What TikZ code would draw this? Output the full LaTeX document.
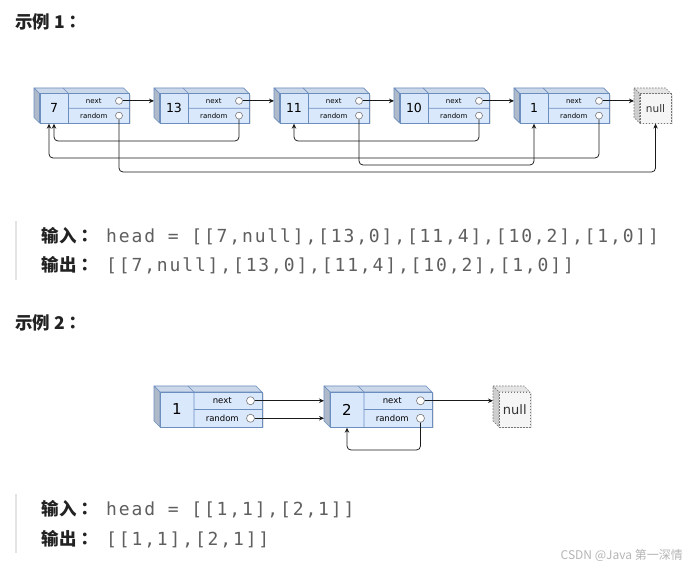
\documentclass[tikz,border=0pt]{standalone}
\usepackage{fontspec}
\setmainfont{DejaVu Sans}
\newfontfamily\cjk{Noto Sans CJK SC}
\newfontfamily\cjktc{Noto Sans CJK TC}
\newfontfamily\monof{DejaVu Sans Mono}[LetterSpace=10.3]
\usetikzlibrary{arrows.meta}
\definecolor{nfill}{HTML}{DAE8FC}
\definecolor{nline}{HTML}{6C8EBF}
\definecolor{zfill}{HTML}{F5F5F5}
\definecolor{zline}{HTML}{777777}
\definecolor{codec}{HTML}{5F5F5F}
\definecolor{headc}{HTML}{222222}
\definecolor{barc}{HTML}{E3E3E3}
\definecolor{markc}{HTML}{B5B5B5}
\definecolor{arrc}{HTML}{1A1A1A}
\definecolor{circc}{HTML}{777777}
\newcommand\cc{{\cjktc ：}}
\tikzset{
  frontface/.style={draw=nline, fill=nfill, line width=0.7pt},
  topface/.style={draw=nline, fill=nfill!93!black, line width=0.7pt, line join=round},
  sideface/.style={draw=nline, fill=nfill!80!black, line width=0.7pt, line join=round},
  divline/.style={draw=nline, line width=0.7pt},
  shadowfill/.style={fill=black, opacity=0.10},
  zfront/.style={draw=zline, fill=zfill, dash pattern=on 1.5pt off 1.5pt, line width=0.6pt},
  ztop/.style={draw=zline, fill=zfill!93!black, dash pattern=on 1.5pt off 1.5pt, line width=0.6pt},
  zside/.style={draw=zline, fill=zfill!84!black, dash pattern=on 1.5pt off 1.5pt, line width=0.6pt},
  circ/.style={circle, draw=circc, fill=white, inner sep=0pt, line width=0.6pt},
  arr/.style={draw=arrc, line width=0.75pt, -{Stealth[length=5pt, width=4.5pt]}},
  rarr/.style={arr, rounded corners=4pt},
  headtxt/.style={font=\cjk\bfseries\fontsize{17.5}{20}\selectfont, text=headc, inner sep=0pt, anchor=base west},
  labtxt/.style={font=\cjk\bfseries\fontsize{17.5}{20}\selectfont, text=headc, inner sep=0pt, anchor=base west},
  codetxt/.style={font=\monof\fontsize{18}{20}\selectfont, text=codec, inner sep=0pt, anchor=base west},
  wmark/.style={font=\cjk\fontsize{12}{14}\selectfont, text=markc, inner sep=0pt, anchor=base east},
}
% list node: name, x (back-left), y (top), value
\newcommand\lnode[4]{%
  \pgfmathsetmacro\kxa{#2}%
  \pgfmathsetmacro\kya{#3}%
  \pgfmathsetmacro\kxb{#2+\bD}%
  \pgfmathsetmacro\kyb{#3+\bD}%
  \pgfmathsetmacro\kxr{#2+\bW}%
  \pgfmathsetmacro\kyr{#3+\bH}%
  \pgfmathsetmacro\kxv{\kxb+\bV}%
  \pgfmathsetmacro\kym{(\kyb+\kyr)/2}%
  \pgfmathsetmacro\kxc{\kxr-\bC}%
  \pgfmathsetmacro\kyn{(\kyb+\kym)/2}%
  \pgfmathsetmacro\kyq{(\kym+\kyr)/2}%
  \pgfmathsetmacro\kxl{(\kxv+\kxc)/2}%
  \pgfmathsetmacro\kxw{(\kxb+\kxv)/2}%
  \pgfmathsetmacro\kfw{\bW-\bD}%
  \pgfmathsetmacro\kfh{\bH-\bD}%
  \node[inner sep=0pt, minimum width=\bW pt, minimum height=\bH pt, anchor=north west] (#1) at (\kxa,\kya) {};
  \fill[shadowfill] (\kxb+1.5,\kyb+1.5) rectangle (\kxr+1.5,\kyr+1.5);
  \filldraw[topface] (\kxa,\kya) -- (\kxr-\bD,\kya) -- (\kxr,\kyb) -- (\kxb,\kyb) -- cycle;
  \filldraw[sideface] (\kxa,\kya) -- (\kxb,\kyb) -- (\kxb,\kyr) -- (\kxa,\kyr-\bD) -- cycle;
  \node[frontface, inner sep=0pt, minimum width=\kfw pt, minimum height=\kfh pt, anchor=north west] (#1-f) at (\kxb,\kyb) {};
  \draw[divline] (\kxv,\kyb) -- (\kxv,\kyr) (\kxv-\bD,\kya) -- (\kxv,\kyb) (\kxv,\kym) -- (\kxr,\kym);
  \node[valtxt] (#1-v) at (\kxw,\kym) {#4};
  \node[lbltxt] (#1-nl) at (\kxl,\kyn) {next};
  \node[lbltxt] (#1-rl) at (\kxl,\kyq) {random};
  \node[circ, minimum size=\bR pt] (#1-n) at (\kxc,\kyn) {};
  \node[circ, minimum size=\bR pt] (#1-r) at (\kxc,\kyq) {};
}
% null node: name, x, y
\newcommand\nnode[3]{%
  \pgfmathsetmacro\kxa{#2}%
  \pgfmathsetmacro\kya{#3}%
  \pgfmathsetmacro\kxb{#2+\bD}%
  \pgfmathsetmacro\kyb{#3+\bD}%
  \pgfmathsetmacro\kxr{#2+\zW}%
  \pgfmathsetmacro\kyr{#3+\bH}%
  \pgfmathsetmacro\kfw{\zW-\bD}%
  \pgfmathsetmacro\kfh{\bH-\bD}%
  \node[inner sep=0pt, minimum width=\zW pt, minimum height=\bH pt, anchor=north west] (#1) at (\kxa,\kya) {};
  \fill[shadowfill] (\kxb+1.5,\kyb+1.5) rectangle (\kxr+1.5,\kyr+1.5);
  \filldraw[ztop] (\kxa,\kya) -- (\kxr-\bD,\kya) -- (\kxr,\kyb) -- (\kxb,\kyb) -- cycle;
  \filldraw[zside] (\kxa,\kya) -- (\kxb,\kyb) -- (\kxb,\kyr) -- (\kxa,\kyr-\bD) -- cycle;
  \node[zfront, inner sep=0pt, minimum width=\kfw pt, minimum height=\kfh pt, anchor=north west] (#1-f) at (\kxb,\kyb) {};
  \node[nulltxt] (#1-t) at (#1-f.center) {null};
}
\begin{document}
\begin{tikzpicture}[x=1pt, y=-1pt]
\useasboundingbox (0,0) rectangle (689,569);
\fill[white] (0,0) rectangle (689,569);

% ---------- Example 1 ----------
\node[headtxt] (h1) at (15,28.3) {示例 1\cc};

\def\bW{95}\def\bH{35}\def\bD{5.5}\def\bV{29}\def\bC{10}\def\bR{7}\def\zW{37}
\tikzset{valtxt/.style={font=\fontsize{12.5}{14}\selectfont, text=black, inner sep=0pt},
         lbltxt/.style={font=\fontsize{7}{8}\selectfont, text=black, inner sep=0pt},
         nulltxt/.style={font=\fontsize{10.5}{12}\selectfont, text=black!80, inner sep=0pt}}
\lnode{a}{34}{88}{7}
\lnode{b}{154}{88}{13}
\lnode{c}{274}{88}{11}
\lnode{d}{394}{88}{10}
\lnode{e}{514}{88}{1}
\nnode{z1}{634}{88}

\coordinate (L1) at (0,141);
\coordinate (L2) at (0,158);
\coordinate (L3) at (0,165);
\coordinate (L4) at (0,172);
\coordinate (a-in) at ([xshift=-5pt]a-v.center);

\draw[arr] (a-n.east) -- (a-n.east -| b.west);
\draw[arr] (b-n.east) -- (b-n.east -| c.west);
\draw[arr] (c-n.east) -- (c-n.east -| d.west);
\draw[arr] (d-n.east) -- (d-n.east -| e.west);
\draw[arr] (e-n.east) -- (e-n.east -| z1.west);

\draw[rarr] (b-r.south) -- (b-r |- L1) -- (a-v |- L1) -- (a-v |- a-f.south);
\draw[rarr] (d-r.south) -- (d-r |- L1) -- (c-v |- L1) -- (c-v |- c-f.south);
\draw[rarr] (e-r.south) -- (e-r |- L2) -- (a-in |- L2) -- (a-in |- a-f.south);
\draw[rarr] (c-r.south) -- (c-r |- L3) -- (e-v |- L3) -- (e-v |- e-f.south);
\draw[rarr] (a-r.south) -- (a-r |- L4) -- (z1-t |- L4) -- (z1-t |- z1-f.south);

\fill[barc] (14.8,221) rectangle (17.3,280);
\node[labtxt] (i1l) at (41.7,242.3) {输入\cc};
\node[codetxt] (i1c) at (106,242.3) {head = [[7,null],[13,0],[11,4],[10,2],[1,0]]};
\node[labtxt] (o1l) at (41.7,271.6) {输出\cc};
\node[codetxt] (o1c) at (106,271.6) {[[7,null],[13,0],[11,4],[10,2],[1,0]]};

% ---------- Example 2 ----------
\node[headtxt] (h2) at (15,329.6) {示例 2\cc};

\def\bW{108}\def\bH{41}\def\bD{6}\def\bV{34}\def\bC{11.5}\def\bR{8}\def\zW{37}
\tikzset{valtxt/.style={font=\fontsize{15}{17}\selectfont, text=black, inner sep=0pt},
         lbltxt/.style={font=\fontsize{8.5}{10}\selectfont, text=black, inner sep=0pt},
         nulltxt/.style={font=\fontsize{13}{15}\selectfont, text=black!80, inner sep=0pt}}
\lnode{p}{154}{386}{1}
\lnode{q}{324}{386}{2}
\nnode{z2}{493}{386}

\coordinate (L5) at (0,450);
\draw[arr] (p-n.east) -- (p-n.east -| q.west);
\draw[arr] (p-r.east) -- (p-r.east -| q.west);
\draw[arr] (q-n.east) -- (q-n.east -| z2.west);
\draw[rarr] (q-r.south) -- (q-r |- L5) -- (q-v |- L5) -- (q-v |- q-f.south);

\fill[barc] (14.8,494) rectangle (17.3,553);
\node[labtxt] (i2l) at (41.7,515.7) {输入\cc};
\node[codetxt] (i2c) at (106,515.7) {head = [[1,1],[2,1]]};
\node[labtxt] (o2l) at (41.7,545.4) {输出\cc};
\node[codetxt] (o2c) at (106,545.4) {[[1,1],[2,1]]};

\node[wmark] (wm) at (683,560) {CSDN @Java 第一深情};
\end{tikzpicture}
\end{document}
